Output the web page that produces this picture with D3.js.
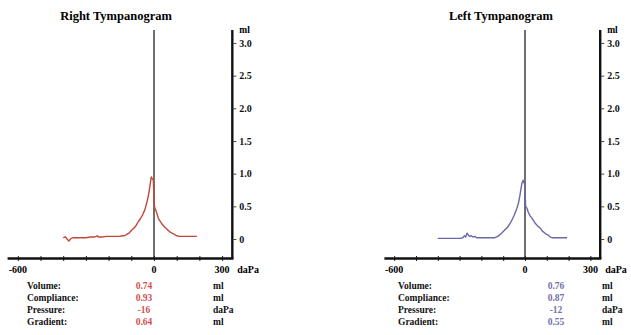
<!DOCTYPE html>
<html>
<head>
<meta charset="utf-8">
<script src="https://cdn.jsdelivr.net/npm/d3@7"></script>
<style>
  body { margin: 0; background: #fff; }
  text { font-family: "Liberation Serif", "Times New Roman", serif; font-weight: bold; }
</style>
</head>
<body>
<script>
// ---- data ----
var rightPressure = [-400, -390, -383, -375, -365, -355, -340, -320, -300, -280, -265, -255, -250, -245, -230, -210, -190, -170, -150, -140, -130, -120, -110, -100, -90, -80, -70, -60, -50, -40, -30, -25, -20, -16, -12, -9, -6, -3, 0, 2, 4, 8, 12, 18, 25, 35, 48, 60, 70, 79, 90, 100, 112, 123, 140, 160, 175, 189];
var rightVolume = [0.02, 0.03, 0.0, -0.03, 0.01, 0.02, 0.02, 0.02, 0.02, 0.03, 0.03, 0.04, 0.05, 0.03, 0.03, 0.04, 0.04, 0.04, 0.04, 0.05, 0.05, 0.07, 0.09, 0.13, 0.16, 0.2, 0.26, 0.31, 0.37, 0.45, 0.58, 0.66, 0.76, 0.86, 0.95, 0.93, 0.92, 0.9, 0.6, 0.5, 0.47, 0.44, 0.4, 0.33, 0.28, 0.23, 0.18, 0.14, 0.11, 0.09, 0.07, 0.05, 0.04, 0.04, 0.04, 0.04, 0.04, 0.04];

var leftPressure = [-400, -380, -360, -340, -320, -300, -285, -278, -272, -266, -260, -254, -246, -238, -230, -222, -216, -200, -180, -160, -138, -125, -110, -92, -80, -70, -60, -50, -37, -30, -23, -18, -14, -11, -9, -5, -2, 0, 3, 9, 15, 24, 32, 45, 58, 69, 80, 95, 106, 116, 124, 140, 160, 180, 193];
var leftVolume = [0.01, 0.01, 0.01, 0.01, 0.01, 0.01, 0.02, 0.05, 0.03, 0.09, 0.06, 0.04, 0.05, 0.03, 0.04, 0.02, 0.02, 0.02, 0.02, 0.02, 0.02, 0.04, 0.08, 0.14, 0.18, 0.23, 0.29, 0.36, 0.47, 0.55, 0.67, 0.78, 0.86, 0.88, 0.9, 0.86, 0.85, 0.72, 0.5, 0.47, 0.41, 0.35, 0.32, 0.25, 0.2, 0.17, 0.12, 0.08, 0.06, 0.03, 0.02, 0.02, 0.02, 0.02, 0.02];

var xTicks = [-600, -500, -400, -300, -200, -100, 0, 100, 200, 300];
var xTickLabels = ["-600", "0", "300"];
var yTicks = [0, 0.5, 1.0, 1.5, 2.0, 2.5, 3.0];
var yTickLabels = ["0", "0.5", "1.0", "1.5", "2.0", "2.5", "3.0"];

var statNames = ["Volume:", "Compliance:", "Pressure:", "Gradient:"];
var statUnits = ["ml", "ml", "daPa", "ml"];
var rightStats = ["0.74", "0.93", "-16", "0.64"];
var leftStats = ["0.76", "0.87", "-12", "0.55"];

// ---- layout ----
var W = 631, H = 335;
var serif = "'Liberation Serif', 'Times New Roman', serif";
var svg = d3.select("body").append("svg").attr("width", W).attr("height", H);

var panels = [
    { title: "Right Tympanogram", titleX: 116, x0: 154, pxPer100: 22.7, pressure: rightPressure, volume: rightVolume,
      stats: rightStats, color: "#c0483a", textColor: "#d45050", valueX: 144, unitX: 213 },
    { title: "Left Tympanogram", titleX: 501, x0: 525, pxPer100: 21.8, pressure: leftPressure, volume: leftVolume,
      stats: leftStats, color: "#6a68a8", textColor: "#7270b0", valueX: 556, unitX: 602 }
];

var y = d3.scaleLinear().domain([0, 3]).range([239, 43]);
var axisY = 258.5, topY = 30;

panels.forEach(function (p) {
    var x = d3.scaleLinear().domain([-600, 300]).range([p.x0 - 6 * p.pxPer100, p.x0 + 3 * p.pxPer100]);
    var g = svg.append("g");
    var xRight = x(345), xLeft = x(-645);

    g.append("text")
        .attr("x", p.titleX).attr("y", 20)
        .attr("text-anchor", "middle")
        .attr("font-size", 12.5)
        .text(p.title);

    // zero line
    g.append("line")
        .attr("x1", x(0)).attr("x2", x(0))
        .attr("y1", topY).attr("y2", axisY)
        .attr("stroke", "#333").attr("stroke-width", 1.4);

    // bottom axis with ticks
    var xAxis = d3.axisBottom(x).tickValues(xTicks).tickSize(5).tickFormat("");
    var gx = g.append("g").attr("transform", "translate(0," + (axisY - 2.5) + ")").call(xAxis);
    gx.select(".domain").remove();
    gx.selectAll(".tick line").attr("stroke", "#222").attr("stroke-width", 1);

    g.append("line")
        .attr("x1", xLeft).attr("x2", xRight + 1.2)
        .attr("y1", axisY).attr("y2", axisY)
        .attr("stroke", "#111").attr("stroke-width", 2.4);

    // right axis
    g.append("line")
        .attr("x1", xRight).attr("x2", xRight)
        .attr("y1", topY).attr("y2", axisY)
        .attr("stroke", "#111").attr("stroke-width", 2.4);

    var yAxis = d3.axisRight(y).tickValues(yTicks).tickSize(3).tickPadding(3)
        .tickFormat(function (d, i) { return yTickLabels[i]; });
    var gy = g.append("g").attr("transform", "translate(" + (xRight + 1) + ",0)").call(yAxis)
        .attr("font-family", serif);
    gy.select(".domain").remove();
    gy.selectAll(".tick line").attr("stroke", "#444");
    gy.selectAll(".tick text")
        .attr("font-weight", "bold")
        .attr("font-size", 10).attr("fill", "#111");

    g.append("text")
        .attr("x", xRight + 7).attr("y", 33)
        .attr("font-size", 9.5)
        .text("ml");

    // x labels
    g.selectAll("text.xl").data(xTickLabels).enter().append("text")
        .attr("class", "xl")
        .attr("x", function (d) { return x(+d); })
        .attr("y", 273)
        .attr("text-anchor", "middle")
        .attr("font-size", 10)
        .text(function (d) { return d; });
    g.append("text")
        .attr("x", xRight + 5).attr("y", 273)
        .attr("font-size", 10)
        .text("daPa");

    // curve
    var line = d3.line()
        .x(function (d) { return x(d[0]); })
        .y(function (d) { return y(d[1]); });
    g.append("path")
        .datum(d3.zip(p.pressure, p.volume))
        .attr("fill", "none")
        .attr("stroke", p.color)
        .attr("stroke-width", 1.4)
        .attr("stroke-linejoin", "round")
        .attr("d", line);

    // stats table
    var rows = g.selectAll("g.row").data(statNames).enter().append("g")
        .attr("class", "row")
        .attr("transform", function (d, i) { return "translate(0," + (289 + i * 12) + ")"; });
    rows.append("text").attr("x", p.x0 - 127).attr("font-size", 9.5).attr("fill", "#111")
        .text(function (d) { return d; });
    rows.append("text").attr("x", p.valueX).attr("text-anchor", "middle").attr("font-size", 9.5)
        .attr("fill", p.textColor)
        .text(function (d, i) { return p.stats[i]; });
    rows.append("text").attr("x", p.unitX).attr("font-size", 9.5).attr("fill", "#111")
        .text(function (d, i) { return statUnits[i]; });
});
</script>
</body>
</html>
